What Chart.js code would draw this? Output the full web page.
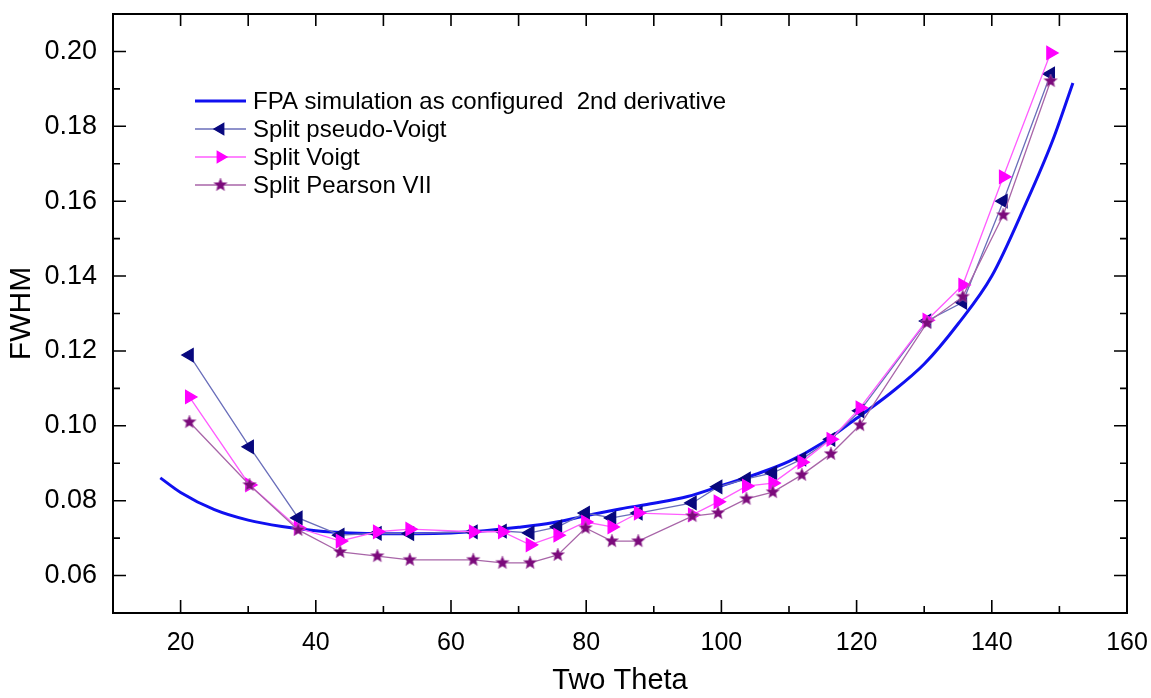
<!DOCTYPE html>
<html>
<head>
<meta charset="utf-8">
<script src="https://cdn.jsdelivr.net/npm/chart.js@4.4.1/dist/chart.umd.min.js"></script>
<style>
html,body{margin:0;padding:0;background:#fff;}
</style>
</head>
<body>
<canvas id="myChart" width="1151" height="698"></canvas>
<script>
// posiciones 2theta de los picos (comunes a los tres ajustes)
const twoTheta = [21.3, 30.2, 37.4, 43.6, 49.1, 53.9, 63.3, 67.6, 71.7, 75.8, 79.9, 83.8, 87.7, 95.7, 99.5, 103.7, 107.6, 111.9, 116.2, 120.5, 130.4, 135.7, 141.7, 148.7];
const splitPseudoVoigt = [0.1189, 0.0944, 0.0754, 0.0708, 0.0713, 0.0712, 0.0717, 0.0719, 0.0714, 0.0730, 0.0767, 0.0754, 0.0767, 0.0794, 0.0837, 0.0858, 0.0874, 0.0911, 0.0964, 0.1040, 0.1280, 0.1330, 0.1600, 0.1940];
const splitVoigt = [0.1077, 0.0842, 0.0727, 0.0692, 0.0717, 0.0724, 0.0717, 0.0717, 0.0682, 0.0708, 0.0743, 0.0730, 0.0767, 0.0762, 0.0797, 0.0839, 0.0847, 0.0903, 0.0964, 0.1048, 0.1282, 0.1376, 0.1665, 0.1996];
const splitPearsonVII = [0.1010, 0.0842, 0.0722, 0.0663, 0.0652, 0.0642, 0.0642, 0.0634, 0.0634, 0.0655, 0.0727, 0.0692, 0.0692, 0.0759, 0.0767, 0.0805, 0.0823, 0.0869, 0.0925, 0.1002, 0.1275, 0.1345, 0.1563, 0.1921];

// curva FPA (simulacion)
const fpaX = [17, 20, 25, 30, 35, 40, 45, 50, 55, 60, 65, 70, 75, 80, 85, 90, 95, 100, 105, 110, 115, 120, 125, 130, 135, 140, 145, 149, 152];
const fpaY = [0.0861, 0.0822, 0.0776, 0.0748, 0.0731, 0.0720, 0.0714, 0.0712, 0.0712, 0.0714, 0.0720, 0.0729, 0.0741, 0.0760, 0.0778, 0.0793, 0.0811, 0.0840, 0.0870, 0.0905, 0.0955, 0.1020, 0.1087, 0.1165, 0.1272, 0.1400, 0.1592, 0.1762, 0.1916];

const xTicks = [20, 40, 60, 80, 100, 120, 140, 160];
const yTicks = [0.06, 0.08, 0.10, 0.12, 0.14, 0.16, 0.18, 0.20];
const etiquetas = ['FPA simulation as configured  2nd derivative', 'Split pseudo-Voigt', 'Split Voigt', 'Split Pearson VII'];

const fuente = "'Liberation Sans', Arial, sans-serif";

function crearEstrella(r, color) {
    const c = document.createElement('canvas');
    c.width = c.height = Math.ceil(r * 2 + 2);
    const g = c.getContext('2d');
    g.beginPath();
    for (let i = 0; i < 10; i++) {
        const rad = i % 2 === 0 ? r : r * 0.45;
        const a = -Math.PI / 2 + i * Math.PI / 5;
        g.lineTo(c.width / 2 + rad * Math.cos(a), c.height / 2 + rad * Math.sin(a));
    }
    g.closePath();
    g.fillStyle = color;
    g.fill();
    g.strokeStyle = '#b06ab0';
    g.lineWidth = 0.6;
    g.stroke();
    return c;
}
const estrella = crearEstrella(7, '#7b0a7b');

function puntos(xs, ys) {
    return xs.map((x, i) => ({ x, y: ys[i] }));
}

// marco con ticks hacia adentro en los cuatro lados
const marco = {
    id: 'marco',
    afterDraw(chart) {
        const { ctx, chartArea: a, scales } = chart;
        const sx = scales.x, sy = scales.y;
        ctx.save();
        ctx.strokeStyle = '#000';
        ctx.lineWidth = 2;
        ctx.strokeRect(a.left, a.top, a.right - a.left, a.bottom - a.top);
        ctx.lineWidth = 1.6;
        ctx.beginPath();
        for (let v = 20; v <= 150; v += 10) {
            const px = sx.getPixelForValue(v);
            const largo = v % 20 === 0 ? 13 : 7;
            ctx.moveTo(px, a.bottom); ctx.lineTo(px, a.bottom - largo);
            ctx.moveTo(px, a.top); ctx.lineTo(px, a.top + 12);
        }
        for (let k = 6; k <= 20; k++) {
            const py = sy.getPixelForValue(k / 100);
            const largo = k % 2 === 0 ? 13 : 7;
            ctx.moveTo(a.left, py); ctx.lineTo(a.left + largo, py);
            ctx.moveTo(a.right, py); ctx.lineTo(a.right - largo, py);
        }
        ctx.stroke();
        ctx.restore();
    }
};

const leyenda = {
    id: 'leyenda',
    afterDraw(chart) {
        const ctx = chart.ctx;
        const x0 = 195, x1 = 246, xt = 253;
        const filas = [101, 129, 157, 185];
        ctx.save();
        ctx.font = '24px ' + fuente;
        ctx.textBaseline = 'middle';
        chart.data.datasets.forEach((ds, i) => {
            const y = filas[i];
            ctx.strokeStyle = ds.borderColor;
            ctx.lineWidth = ds.borderWidth;
            ctx.beginPath();
            ctx.moveTo(x0, y); ctx.lineTo(x1, y);
            ctx.stroke();
            if (ds.pointRadius > 0) {
                ctx.fillStyle = ds.pointBackgroundColor;
                ctx.strokeStyle = ds.pointBorderColor;
                Chart.helpers.drawPoint(ctx, {
                    pointStyle: ds.pointStyle,
                    radius: ds.pointRadius - 1,
                    rotation: ds.pointRotation || 0,
                    borderWidth: 1
                }, (x0 + x1) / 2, y);
            }
            ctx.fillStyle = '#000';
            ctx.fillText(etiquetas[i], xt, y + 1);
        });
        ctx.restore();
    }
};

const ctx = document.getElementById('myChart');

new Chart(ctx, {
    type: 'scatter',
    data: {
        datasets: [
            {
                label: etiquetas[0],
                data: puntos(fpaX, fpaY),
                showLine: true,
                borderColor: '#1010f0',
                borderWidth: 3,
                pointRadius: 0,
                cubicInterpolationMode: 'monotone',
                order: 4
            },
            {
                label: etiquetas[1],
                data: puntos(twoTheta, splitPseudoVoigt),
                showLine: true,
                borderColor: '#6a6eba',
                borderWidth: 1.3,
                pointStyle: 'triangle',
                pointRotation: -90,
                pointRadius: 7.5,
                pointBackgroundColor: '#08087e',
                pointBorderColor: '#08087e',
                order: 3
            },
            {
                label: etiquetas[2],
                data: puntos(twoTheta, splitVoigt),
                showLine: true,
                borderColor: '#ff5cff',
                borderWidth: 1.3,
                pointStyle: 'triangle',
                pointRotation: 90,
                pointRadius: 7.5,
                pointBackgroundColor: '#ff00ff',
                pointBorderColor: '#ff00ff',
                order: 2
            },
            {
                label: etiquetas[3],
                data: puntos(twoTheta, splitPearsonVII),
                showLine: true,
                borderColor: '#a865a8',
                borderWidth: 1.3,
                pointStyle: estrella,
                pointRadius: 7,
                pointBackgroundColor: '#7b0a7b',
                pointBorderColor: '#7b0a7b',
                order: 1
            }
        ]
    },
    options: {
        responsive: false,
        animation: false,
        layout: { padding: { top: 14, right: 24, left: 0, bottom: 0 } },
        plugins: {
            legend: { display: false },
            tooltip: { enabled: false }
        },
        scales: {
            x: {
                type: 'linear',
                min: 10,
                max: 160,
                grid: { display: false },
                border: { display: false },
                afterBuildTicks: (s) => { s.ticks = xTicks.map(v => ({ value: v })); },
                afterFit: (s) => { s.height = 85; s.paddingLeft = 0; s.paddingRight = 0; },
                ticks: {
                    color: '#000',
                    padding: 7,
                    font: { family: fuente, size: 25 }
                },
                title: {
                    display: true,
                    text: 'Two Theta',
                    color: '#000',
                    font: { family: fuente, size: 29 },
                    padding: { top: 0, bottom: 0 }
                }
            },
            y: {
                type: 'linear',
                min: 0.05,
                max: 0.21,
                grid: { display: false },
                border: { display: false },
                afterBuildTicks: (s) => { s.ticks = yTicks.map(v => ({ value: v })); },
                afterFit: (s) => { s.width = 113; s.paddingTop = 0; s.paddingBottom = 0; },
                ticks: {
                    color: '#000',
                    padding: 8,
                    font: { family: fuente, size: 27 },
                    callback: (v) => Number(v).toFixed(2)
                },
                title: {
                    display: true,
                    text: 'FWHM',
                    color: '#000',
                    font: { family: fuente, size: 30 },
                    padding: { top: 4, bottom: 0 }
                }
            }
        }
    },
    plugins: [marco, leyenda]
});
</script>
</body>
</html>
